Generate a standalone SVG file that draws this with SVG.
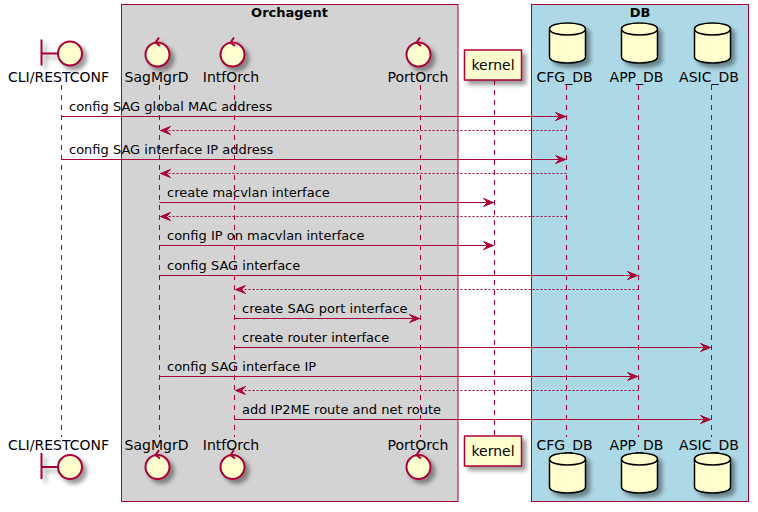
<svg xmlns="http://www.w3.org/2000/svg" width="758" height="512" viewBox="0 0 758 512">
<defs>
<style>
text{font-family:"DejaVu Sans","Liberation Sans",sans-serif;fill:#000}
.pl{font-size:14px;text-anchor:middle}
.ml{font-size:13px}
.bt{font-size:13px;font-weight:bold;text-anchor:middle}
.life{stroke:#A80036;stroke-width:1;stroke-dasharray:5,5;fill:none}
.msg{stroke:#A80036;stroke-width:1;fill:none}
.ret{stroke:#A80036;stroke-width:1;stroke-dasharray:2,2;fill:none}
.head{fill:#A80036;stroke:#A80036;stroke-width:1}
.ico{fill:#FEFECE;stroke:#A80036;stroke-width:2}
.icoline{fill:none;stroke:#A80036;stroke-width:2}
.db{fill:#FEFECE;stroke:#000;stroke-width:1.5}
.dbl{fill:none;stroke:#000;stroke-width:1.5}
.kbox{fill:#FEFECE;stroke:#A80036;stroke-width:1.5}
</style>
<filter id="sh" x="-1" y="-1" width="300%" height="300%">
<feGaussianBlur result="b1" stdDeviation="2"/>
<feColorMatrix in="b1" result="b2" type="matrix" values="0 0 0 0 0 0 0 0 0 0 0 0 0 0 0 0 0 0 .4 0"/>
<feOffset dx="4" dy="4" in="b2" result="b3"/>
<feBlend in="SourceGraphic" in2="b3" mode="normal"/>
</filter>
<g id="ctrl">
<circle cx="0" cy="0" r="12" class="ico"/>
<path d="M1.5,-17 L-2,-12 L2.5,-8.5" class="icoline"/>
</g>
<g id="bnd">
<line x1="-28.5" y1="-14" x2="-28.5" y2="12" class="icoline"/>
<line x1="-28.5" y1="0" x2="-12" y2="0" class="icoline"/>
<circle cx="0" cy="0" r="12" class="ico"/>
</g>
<g id="cyl">
<path d="M0,6 C0,-2 36,-2 36,6 L36,34 C36,42 0,42 0,34 Z" class="db"/>
<path d="M0,6 C0,14 36,14 36,6" class="dbl"/>
</g>
</defs>
<rect width="758" height="512" fill="#fff"/>

<g id="box-orchagent">
<rect x="121.5" y="4.5" width="336.5" height="497" fill="#D3D3D3" stroke="#A80036" stroke-width="1"/>
<text class="bt" x="289.5" y="17">Orchagent</text>
</g>
<g id="box-db">
<rect x="531.5" y="4.5" width="217" height="497" fill="#ADD8E6" stroke="#A80036" stroke-width="1"/>
<text class="bt" x="640" y="17">DB</text>
</g>

<g id="lifelines">
<line class="life" x1="61.5" y1="85" x2="61.5" y2="437"/>
<line class="life" x1="159.5" y1="85" x2="159.5" y2="437"/>
<line class="life" x1="234.5" y1="85" x2="234.5" y2="437"/>
<line class="life" x1="420.5" y1="85" x2="420.5" y2="437"/>
<line class="life" x1="494.5" y1="80" x2="494.5" y2="436"/>
<line class="life" x1="566.5" y1="85" x2="566.5" y2="437"/>
<line class="life" x1="638.5" y1="85" x2="638.5" y2="437"/>
<line class="life" x1="711.5" y1="85" x2="711.5" y2="437"/>
</g>

<g id="p-cli">
<use href="#bnd" x="70" y="53.5" filter="url(#sh)"/>
<text class="pl" x="58.5" y="81.5">CLI/RESTCONF</text>
<text class="pl" x="58.5" y="450">CLI/RESTCONF</text>
<use href="#bnd" x="70" y="467" filter="url(#sh)"/>
</g>
<g id="p-sagmgrd">
<use href="#ctrl" x="157.5" y="54.5" filter="url(#sh)"/>
<text class="pl" x="156.5" y="81.5">SagMgrD</text>
<text class="pl" x="156.5" y="450">SagMgrD</text>
<use href="#ctrl" x="157.5" y="467" filter="url(#sh)"/>
</g>
<g id="p-intforch">
<use href="#ctrl" x="232.5" y="54.5" filter="url(#sh)"/>
<text class="pl" x="231" y="81.5">IntfOrch</text>
<text class="pl" x="231" y="450">IntfOrch</text>
<use href="#ctrl" x="232.5" y="467" filter="url(#sh)"/>
</g>
<g id="p-portorch">
<use href="#ctrl" x="418.5" y="54.5" filter="url(#sh)"/>
<text class="pl" x="418" y="81.5">PortOrch</text>
<text class="pl" x="418" y="450">PortOrch</text>
<use href="#ctrl" x="418.5" y="467" filter="url(#sh)"/>
</g>
<g id="p-kernel">
<rect class="kbox" x="464.5" y="50" width="57" height="30" filter="url(#sh)"/>
<text class="pl" x="493" y="70">kernel</text>
<rect class="kbox" x="464.5" y="436" width="57" height="30" filter="url(#sh)"/>
<text class="pl" x="493" y="456">kernel</text>
</g>
<g id="p-cfgdb">
<use href="#cyl" x="549.5" y="23" filter="url(#sh)"/>
<text class="pl" x="564.5" y="81.5">CFG_DB</text>
<text class="pl" x="564.5" y="450">CFG_DB</text>
<use href="#cyl" x="549.5" y="453" filter="url(#sh)"/>
</g>
<g id="p-appdb">
<use href="#cyl" x="621.5" y="23" filter="url(#sh)"/>
<text class="pl" x="636.5" y="81.5">APP_DB</text>
<text class="pl" x="636.5" y="450">APP_DB</text>
<use href="#cyl" x="621.5" y="453" filter="url(#sh)"/>
</g>
<g id="p-asicdb">
<use href="#cyl" x="694.5" y="23" filter="url(#sh)"/>
<text class="pl" x="709" y="81.5">ASIC_DB</text>
<text class="pl" x="709" y="450">ASIC_DB</text>
<use href="#cyl" x="694.5" y="453" filter="url(#sh)"/>
</g>

<g id="connectors">
<line class="msg" x1="61.5" y1="116.5" x2="565.5" y2="116.5"/>
<polygon class="head" points="555.5,112.5 565.5,116.5 555.5,120.5 559.5,116.5"/>
<text class="ml" x="69" y="111">config SAG global MAC address</text>

<line class="ret" x1="566.5" y1="130.5" x2="160.5" y2="130.5"/>
<polygon class="head" points="170.5,126.5 160.5,130.5 170.5,134.5 166.5,130.5"/>

<line class="msg" x1="61.5" y1="159.5" x2="565.5" y2="159.5"/>
<polygon class="head" points="555.5,155.5 565.5,159.5 555.5,163.5 559.5,159.5"/>
<text class="ml" x="69" y="154">config SAG interface IP address</text>

<line class="ret" x1="566.5" y1="173.5" x2="160.5" y2="173.5"/>
<polygon class="head" points="170.5,169.5 160.5,173.5 170.5,177.5 166.5,173.5"/>

<line class="msg" x1="159.5" y1="202.5" x2="493.5" y2="202.5"/>
<polygon class="head" points="483.5,198.5 493.5,202.5 483.5,206.5 487.5,202.5"/>
<text class="ml" x="167" y="197">create macvlan interface</text>

<line class="ret" x1="566.5" y1="216.5" x2="160.5" y2="216.5"/>
<polygon class="head" points="170.5,212.5 160.5,216.5 170.5,220.5 166.5,216.5"/>

<line class="msg" x1="159.5" y1="245.5" x2="493.5" y2="245.5"/>
<polygon class="head" points="483.5,241.5 493.5,245.5 483.5,249.5 487.5,245.5"/>
<text class="ml" x="167" y="240">config IP on macvlan interface</text>

<line class="msg" x1="159.5" y1="275.5" x2="637.5" y2="275.5"/>
<polygon class="head" points="627.5,271.5 637.5,275.5 627.5,279.5 631.5,275.5"/>
<text class="ml" x="167" y="270">config SAG interface</text>

<line class="ret" x1="638.5" y1="289.5" x2="235.5" y2="289.5"/>
<polygon class="head" points="245.5,285.5 235.5,289.5 245.5,293.5 241.5,289.5"/>

<line class="msg" x1="234.5" y1="318.5" x2="419.5" y2="318.5"/>
<polygon class="head" points="409.5,314.5 419.5,318.5 409.5,322.5 413.5,318.5"/>
<text class="ml" x="242" y="313">create SAG port interface</text>

<line class="msg" x1="234.5" y1="347.5" x2="710.5" y2="347.5"/>
<polygon class="head" points="700.5,343.5 710.5,347.5 700.5,351.5 704.5,347.5"/>
<text class="ml" x="242" y="342">create router interface</text>

<line class="msg" x1="159.5" y1="376.5" x2="637.5" y2="376.5"/>
<polygon class="head" points="627.5,372.5 637.5,376.5 627.5,380.5 631.5,376.5"/>
<text class="ml" x="167" y="371">config SAG interface IP</text>

<line class="ret" x1="638.5" y1="390.5" x2="235.5" y2="390.5"/>
<polygon class="head" points="245.5,386.5 235.5,390.5 245.5,394.5 241.5,390.5"/>

<line class="msg" x1="234.5" y1="419.5" x2="710.5" y2="419.5"/>
<polygon class="head" points="700.5,415.5 710.5,419.5 700.5,423.5 704.5,419.5"/>
<text class="ml" x="242" y="414">add IP2ME route and net route</text>
</g>
</svg>
